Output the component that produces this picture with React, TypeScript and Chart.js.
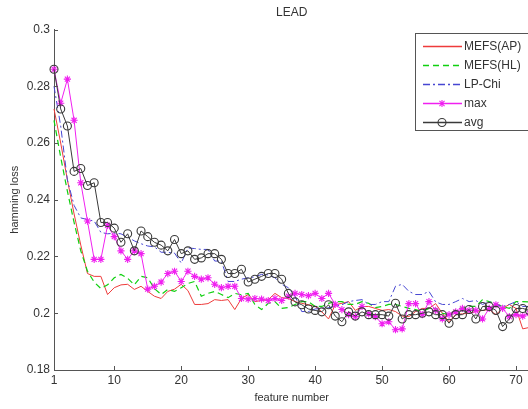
import { useEffect, useRef } from "react";
import { Chart, registerables } from "chart.js";

Chart.register(...registerables);

const featureNumbers = [
  1, 2, 3, 4, 5, 6, 7, 8, 9, 10, 11, 12, 13, 14, 15, 16, 17, 18, 19, 20, 21, 22, 23, 24,
  25, 26, 27, 28, 29, 30, 31, 32, 33, 34, 35, 36, 37, 38, 39, 40, 41, 42, 43, 44, 45, 46, 47, 48,
  49, 50, 51, 52, 53, 54, 55, 56, 57, 58, 59, 60, 61, 62, 63, 64, 65, 66, 67, 68, 69, 70, 71, 72,
];

const xTickValues = [1, 10, 20, 30, 40, 50, 60, 70];
const yTickValues = [0.18, 0.2, 0.22, 0.24, 0.26, 0.28, 0.3];
const yTickLabels = ["0.18", "0.2", "0.22", "0.24", "0.26", "0.28", "0.3"];

const seriesNames = ["MEFS(AP)", "MEFS(HL)", "LP-Chi", "max", "avg"];

const mefsAP = [
  0.272, 0.26, 0.247, 0.235, 0.224, 0.214, 0.213, 0.213, 0.2066, 0.209, 0.21, 0.2102,
  0.2084, 0.2095, 0.2077, 0.206, 0.2052, 0.2077, 0.2085, 0.2102, 0.208, 0.2031, 0.2031, 0.2034,
  0.2048, 0.2045, 0.2048, 0.2013, 0.2052, 0.2066, 0.2041, 0.2045, 0.2048, 0.207, 0.2055, 0.2052,
  0.2041, 0.2035, 0.203, 0.2024, 0.2005, 0.198, 0.203, 0.2035, 0.2041, 0.201, 0.2024, 0.2024,
  0.2017, 0.201, 0.2013, 0.2006, 0.199, 0.1988, 0.2006, 0.2017, 0.2017, 0.2034, 0.2, 0.197,
  0.1995, 0.1998, 0.2, 0.2006, 0.201, 0.2013, 0.1995, 0.2017, 0.2031, 0.2017, 0.1945, 0.195,
];

const mefsHL = [
  0.268, 0.255, 0.243, 0.232, 0.222, 0.2148, 0.211, 0.2087, 0.21, 0.2125, 0.2137, 0.2123,
  0.21, 0.213, 0.2125, 0.2087, 0.2066, 0.2084, 0.2077, 0.209, 0.2105, 0.2112, 0.206, 0.207,
  0.2077, 0.2066, 0.2055, 0.207, 0.2065, 0.207, 0.2031, 0.2013, 0.2035, 0.2041, 0.2017, 0.202,
  0.2031, 0.2041, 0.2041, 0.2024, 0.2024, 0.2035, 0.2041, 0.2041, 0.2031, 0.2031, 0.2041, 0.2035,
  0.202, 0.2024, 0.2031, 0.2031, 0.2024, 0.2017, 0.2013, 0.2006, 0.2017, 0.2017, 0.2, 0.1995,
  0.2013, 0.202, 0.2024, 0.2024, 0.2048, 0.2041, 0.2034, 0.2024, 0.2017, 0.2041, 0.2041, 0.204,
];

const lpChi = [
  0.28, 0.266, 0.247, 0.238, 0.2336, 0.233, 0.2325, 0.2285, 0.228, 0.2282, 0.228, 0.2268,
  0.2255, 0.2245, 0.2237, 0.2234, 0.2215, 0.2215, 0.2212, 0.2177, 0.223, 0.2228, 0.2225, 0.2225,
  0.2184, 0.2184, 0.2112, 0.2112, 0.212, 0.2125, 0.2128, 0.2137, 0.2135, 0.2125, 0.2102, 0.209,
  0.206, 0.2006, 0.2006, 0.2015, 0.2017, 0.202, 0.2024, 0.203, 0.2041, 0.2045, 0.2048, 0.2031,
  0.2031, 0.2041, 0.2041, 0.2095, 0.2102, 0.2077, 0.2066, 0.2066, 0.2077, 0.204, 0.2031, 0.2031,
  0.2041, 0.2052, 0.2041, 0.2045, 0.2031, 0.2041, 0.2031, 0.2024, 0.2031, 0.2041, 0.2024, 0.2024,
];

const maxSeries = [
  0.286, 0.274, 0.2825, 0.268, 0.246, 0.2325, 0.219, 0.219, 0.231, 0.227, 0.222, 0.219,
  0.222, 0.221, 0.2085, 0.2095, 0.211, 0.214, 0.2148, 0.2112, 0.2148, 0.213, 0.212, 0.2125,
  0.2102, 0.209, 0.2095, 0.2095, 0.2052, 0.205, 0.2052, 0.205, 0.2045, 0.2052, 0.2045, 0.206,
  0.207, 0.2066, 0.2062, 0.207, 0.2052, 0.207, 0.2031, 0.2013, 0.1995, 0.1988, 0.2024, 0.1998,
  0.1988, 0.1963, 0.197, 0.1942, 0.1945, 0.2034, 0.2034, 0.1995, 0.2041, 0.201, 0.198, 0.1995,
  0.2005, 0.2017, 0.201, 0.201, 0.198, 0.2017, 0.203, 0.2017, 0.1988, 0.1995, 0.199, 0.2,
];

const avgSeries = [
  0.286, 0.272, 0.266, 0.25, 0.251, 0.245, 0.246, 0.232, 0.232, 0.23, 0.225, 0.228,
  0.222, 0.229, 0.227, 0.225, 0.224, 0.222, 0.226, 0.221, 0.222, 0.219, 0.2195, 0.221,
  0.221, 0.219, 0.214, 0.214, 0.2155, 0.211, 0.212, 0.213, 0.214, 0.214, 0.212, 0.207,
  0.204, 0.203, 0.2015, 0.201, 0.2005, 0.203, 0.199, 0.197, 0.2005, 0.199, 0.2005, 0.1995,
  0.1995, 0.1995, 0.199, 0.2035, 0.198, 0.1995, 0.1995, 0.2, 0.2005, 0.1995, 0.1995, 0.1965,
  0.1995, 0.1995, 0.2013, 0.198, 0.2024, 0.2024, 0.201, 0.1953, 0.198, 0.2017, 0.2017, 0.201,
];

const COLORS = ["#ee3b3b", "#10d010", "#4646d2", "#f020f0", "#3a3a3a"];
const DASHES: number[][] = [[], [6, 4], [7, 3, 2, 3], [], []];
const MARKERS: (string | false)[] = [false, false, false, "star", "circle"];

const CANVAS_W = 545;
const CANVAS_H = 409;
const PLOT_RIGHT = 529.4;
const FONT = "'Liberation Sans', Arial, sans-serif";
const TEXT_COLOR = "#333";

export default function App() {
  const ref = useRef<HTMLCanvasElement | null>(null);

  useEffect(() => {
    const canvas = ref.current;
    if (!canvas) return;
    const seriesValues = [mefsAP, mefsHL, lpChi, maxSeries, avgSeries];
    const orders = [4, 3, 2, 1, 0];

    const datasets = seriesValues.map((vals, i) => ({
      label: seriesNames[i],
      data: featureNumbers.map((x, j) => ({ x, y: vals[j] })),
      borderColor: COLORS[i],
      backgroundColor: "rgba(0,0,0,0)",
      borderWidth: i === 1 ? 1.2 : 1,
      borderDash: DASHES[i],
      pointRadius: MARKERS[i] === "circle" ? 4 : MARKERS[i] ? 3.6 : 0,
      pointStyle: (MARKERS[i] || "circle") as any,
      pointBorderColor: COLORS[i],
      pointBackgroundColor: "rgba(0,0,0,0)",
      pointBorderWidth: 1.1,
      tension: 0,
      fill: false,
      clip: false as any,
      order: orders[i],
    }));

    const decorPlugin = {
      id: "decor",
      afterDraw(chart: any) {
        const ctx = chart.ctx as CanvasRenderingContext2D;
        const area = chart.chartArea;
        const xs = chart.scales.x;
        const ys = chart.scales.y;
        ctx.save();
        // inward tick marks
        ctx.strokeStyle = "#555";
        ctx.lineWidth = 1;
        ctx.setLineDash([]);
        ctx.beginPath();
        xTickValues.forEach((v) => {
          const px = Math.round(xs.getPixelForValue(v)) + 0.5;
          ctx.moveTo(px, area.bottom);
          ctx.lineTo(px, area.bottom - 4);
        });
        yTickValues.forEach((v) => {
          const py = Math.round(ys.getPixelForValue(v)) + 0.5;
          ctx.moveTo(area.left, py);
          ctx.lineTo(area.left + 4, py);
        });
        ctx.stroke();

        // title
        ctx.fillStyle = TEXT_COLOR;
        ctx.font = `12px ${FONT}`;
        ctx.textAlign = "center";
        ctx.textBaseline = "middle";
        ctx.fillText("LEAD", (area.left + area.right) / 2, 13);

        // legend
        const bx = 415;
        const by = 33;
        const bw = 140;
        const bh = 97;
        ctx.fillStyle = "#fff";
        ctx.fillRect(bx, by, bw, bh);
        ctx.strokeStyle = "#555";
        ctx.lineWidth = 1;
        ctx.strokeRect(bx + 0.5, by + 0.5, bw, bh);
        const rowYs = [46, 65, 84, 103, 122];
        seriesNames.forEach((name, i) => {
          const y = rowYs[i];
          ctx.strokeStyle = COLORS[i];
          ctx.lineWidth = 1.3;
          ctx.setLineDash(DASHES[i]);
          ctx.beginPath();
          ctx.moveTo(423, y + 0.5);
          ctx.lineTo(462, y + 0.5);
          ctx.stroke();
          ctx.setLineDash([]);
          const mx = 442;
          if (MARKERS[i] === "circle") {
            ctx.beginPath();
            ctx.arc(mx, y + 0.5, 4, 0, Math.PI * 2);
            ctx.lineWidth = 1.1;
            ctx.stroke();
          } else if (MARKERS[i] === "star") {
            const r = 3.6;
            const d = r * Math.SQRT1_2;
            ctx.lineWidth = 1.1;
            ctx.beginPath();
            ctx.moveTo(mx - r, y + 0.5);
            ctx.lineTo(mx + r, y + 0.5);
            ctx.moveTo(mx, y + 0.5 - r);
            ctx.lineTo(mx, y + 0.5 + r);
            ctx.moveTo(mx - d, y + 0.5 - d);
            ctx.lineTo(mx + d, y + 0.5 + d);
            ctx.moveTo(mx - d, y + 0.5 + d);
            ctx.lineTo(mx + d, y + 0.5 - d);
            ctx.stroke();
          }
          ctx.fillStyle = TEXT_COLOR;
          ctx.font = `12px ${FONT}`;
          ctx.textAlign = "left";
          ctx.textBaseline = "middle";
          ctx.fillText(name, 464, y + 0.5);
        });
        ctx.restore();
      },
    };

    const chart = new Chart(canvas, {
      type: "line",
      data: { datasets: datasets as any },
      options: {
        animation: false,
        responsive: false,
        maintainAspectRatio: false,
        devicePixelRatio: 1,
        layout: { padding: { top: 29.5, right: CANVAS_W - PLOT_RIGHT, left: 0, bottom: 0 } },
        plugins: {
          legend: { display: false },
          tooltip: { enabled: false },
          title: { display: false },
        },
        scales: {
          x: {
            type: "linear",
            min: 1,
            max: 72,
            afterBuildTicks: (s: any) => {
              s.ticks = xTickValues.map((v) => ({ value: v }));
            },
            grid: { display: false, drawTicks: false, tickLength: 0 },
            border: { display: true, color: "#555", width: 1 },
            ticks: {
              padding: 3,
              color: TEXT_COLOR,
              font: { family: FONT, size: 12 },
              maxRotation: 0,
              autoSkip: false,
              callback: (v: any) => String(v),
            },
            title: {
              display: true,
              text: "feature number",
              color: TEXT_COLOR,
              font: { family: FONT, size: 11 },
              padding: { top: 0, bottom: 4 },
            },
            afterFit: (s: any) => {
              s.height = 39;
            },
          },
          y: {
            type: "linear",
            min: 0.18,
            max: 0.3,
            afterBuildTicks: (s: any) => {
              s.ticks = yTickValues.map((v) => ({ value: v }));
            },
            grid: { display: false, drawTicks: false, tickLength: 0 },
            border: { display: true, color: "#555", width: 1 },
            ticks: {
              padding: 4,
              color: TEXT_COLOR,
              font: { family: FONT, size: 12 },
              autoSkip: false,
              callback: (v: any) => {
                const idx = yTickValues.findIndex((t) => Math.abs(t - v) < 1e-9);
                return idx >= 0 ? yTickLabels[idx] : "";
              },
            },
            title: {
              display: true,
              text: "hamming loss",
              color: TEXT_COLOR,
              font: { family: FONT, size: 11 },
              padding: { top: 8, bottom: 0 },
            },
            afterFit: (s: any) => {
              s.width = 54;
            },
          },
        },
      },
      plugins: [decorPlugin],
    });

    return () => chart.destroy();
  }, []);

  return (
    <div
      style={{
        position: "fixed",
        left: 0,
        top: 0,
        width: 528,
        height: 409,
        overflow: "hidden",
        background: "#fff",
      }}
    >
      <canvas
        ref={ref}
        width={CANVAS_W}
        height={CANVAS_H}
        style={{ width: CANVAS_W, height: CANVAS_H, display: "block" }}
      />
    </div>
  );
}
